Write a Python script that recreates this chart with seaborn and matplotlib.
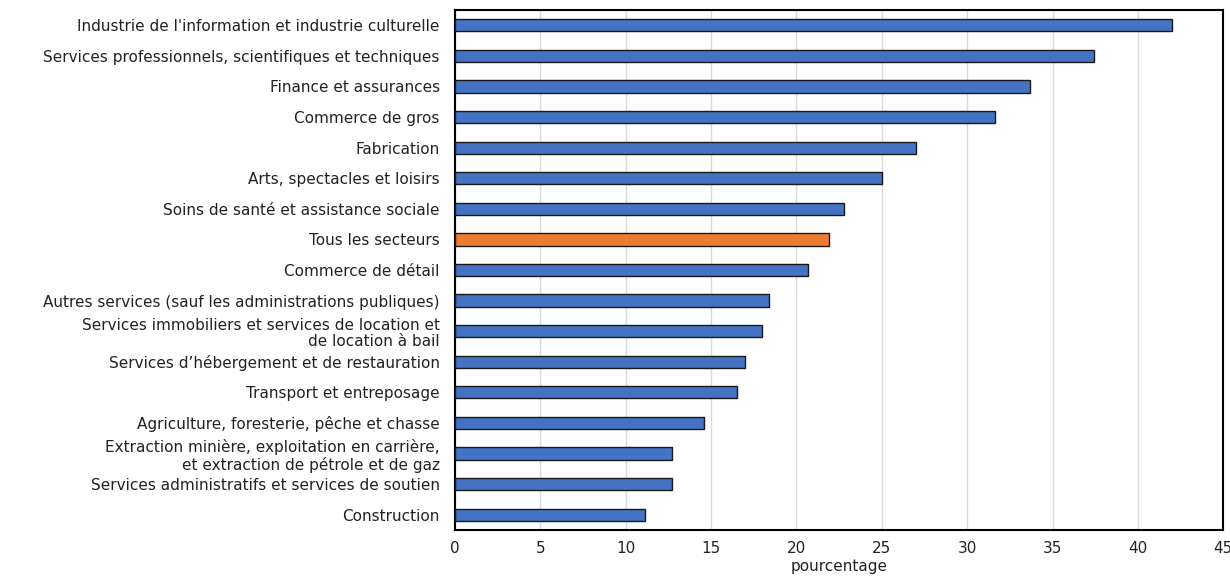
import matplotlib
matplotlib.use("Agg")
import matplotlib.pyplot as plt
import seaborn as sns
import pandas as pd

categories = [
    "Industrie de l'information et industrie culturelle",
    "Services professionnels, scientifiques et techniques",
    "Finance et assurances",
    "Commerce de gros",
    "Fabrication",
    "Arts, spectacles et loisirs",
    "Soins de santé et assistance sociale",
    "Tous les secteurs",
    "Commerce de détail",
    "Autres services (sauf les administrations publiques)",
    "Services immobiliers et services de location et\nde location à bail",
    "Services d’hébergement et de restauration",
    "Transport et entreposage",
    "Agriculture, foresterie, pêche et chasse",
    "Extraction minière, exploitation en carrière,\net extraction de pétrole et de gaz",
    "Services administratifs et services de soutien",
    "Construction",
]
values = [42.0, 37.4, 33.7, 31.6, 27.0, 25.0, 22.8, 21.9, 20.7, 18.4,
          18.0, 17.0, 16.5, 14.6, 12.7, 12.7, 11.1]
highlight = "Tous les secteurs"
x_ticks = [0, 5, 10, 15, 20, 25, 30, 35, 40, 45]

BLUE = "#4472C4"
ORANGE = "#ED7D31"

sns.set_theme(style="white")
plt.rcParams["font.family"] = ["DejaVu Sans"]

df = pd.DataFrame({"secteur": categories, "pct": values})
palette = {c: (ORANGE if c == highlight else BLUE) for c in categories}

fig = plt.figure(figsize=(12.3, 5.78), dpi=100)
ax = fig.add_axes([0.370, 0.083, 0.6245, 0.8997])

sns.barplot(data=df, x="pct", y="secteur", hue="secteur", palette=palette,
            order=categories, hue_order=categories, legend=False,
            width=0.4, edgecolor="#1a1a1a", linewidth=1.0, saturation=1,
            ax=ax, zorder=3)

ax.set_xlim(0, 45)
ax.set_xticks(x_ticks)
ax.set_xticklabels([str(t) for t in x_ticks], fontsize=11, color="#222222")
ax.set_xlabel("pourcentage", fontsize=11, color="#222222", labelpad=2)
ax.set_ylabel("")
ax.tick_params(axis="y", labelsize=11, length=0, pad=11, labelcolor="#222222")
ax.tick_params(axis="x", length=0, pad=8)
for lbl in ax.get_yticklabels():
    lbl.set_linespacing(1.15)

ax.grid(axis="x", color="#DADADA", linewidth=1.0, zorder=0)
ax.grid(axis="y", visible=False)
for sp in ax.spines.values():
    sp.set_visible(True)
    sp.set_color("black")
    sp.set_linewidth(1.5)

fig.savefig("out.png", dpi=100, facecolor="white")
